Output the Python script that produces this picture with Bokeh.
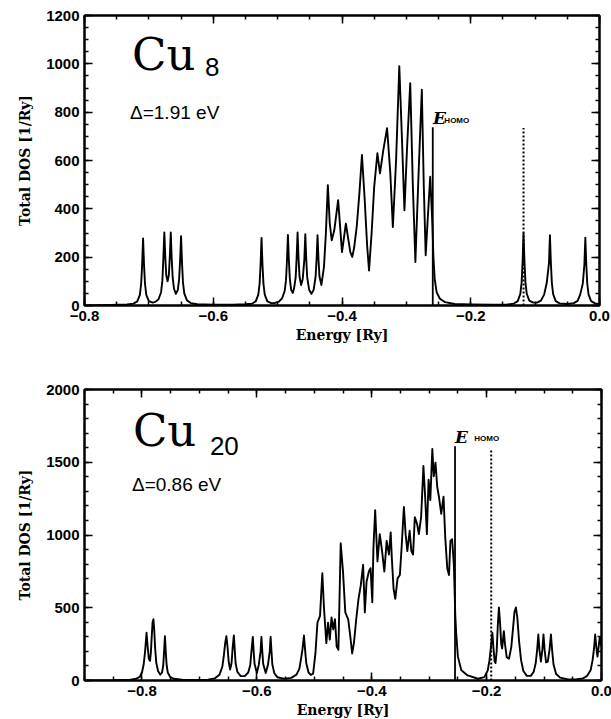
import numpy as np
from bokeh.plotting import figure
from bokeh.layouts import column
from bokeh.models import Range1d, FixedTicker, LinearAxis, Label, CustomLabelingPolicy
from bokeh.embed import file_html
from bokeh.resources import INLINE

# ---------------- Cu8 (top panel) ----------------
cu8_energy = [
    -0.800, -0.760, -0.734, -0.724, -0.718, -0.714, -0.712, -0.7105, -0.709, -0.7075, -0.706, -0.704, -0.700, -0.694,
    -0.690, -0.685, -0.681, -0.679, -0.6775, -0.676, -0.6745, -0.673, -0.671, -0.669, -0.6675, -0.666, -0.6645,
    -0.663, -0.661, -0.658, -0.655, -0.653, -0.6515, -0.650, -0.6485, -0.647, -0.645, -0.641, -0.635, -0.625,
    -0.600, -0.570, -0.550, -0.540, -0.534, -0.530, -0.528, -0.5265, -0.525, -0.5235, -0.522, -0.520, -0.516,
    -0.510, -0.505, -0.498, -0.493, -0.489, -0.487, -0.4855, -0.484, -0.4825, -0.481, -0.479, -0.4765, -0.4745,
    -0.472, -0.4705, -0.469, -0.4675, -0.466, -0.4635, -0.461, -0.4585, -0.457, -0.4555, -0.454, -0.451, -0.4475,
    -0.444, -0.441, -0.4395, -0.438, -0.4365, -0.435, -0.432, -0.428, -0.425, -0.422, -0.419, -0.416, -0.412,
    -0.406, -0.400, -0.394, -0.387, -0.384, -0.381, -0.377, -0.373, -0.369, -0.365, -0.361, -0.358, -0.354,
    -0.350, -0.345, -0.341, -0.336, -0.330, -0.325, -0.321, -0.316, -0.311, -0.307, -0.303, -0.299, -0.294,
    -0.290, -0.286, -0.281, -0.276, -0.273, -0.270, -0.267, -0.263, -0.261, -0.2595, -0.258, -0.256, -0.253,
    -0.248, -0.240, -0.225, -0.200, -0.165, -0.143, -0.133, -0.127, -0.123, -0.121, -0.1195, -0.118, -0.1165,
    -0.115, -0.113, -0.109, -0.103, -0.097, -0.091, -0.086, -0.082, -0.0785, -0.077, -0.0755, -0.074, -0.072,
    -0.068, -0.062, -0.050, -0.040, -0.034, -0.030, -0.026, -0.0235, -0.022, -0.0205, -0.019, -0.017, -0.013,
    -0.007, 0.000,
]
cu8_dos = [
    0, 2, 4, 8, 17, 44, 89, 166, 277, 166, 89, 44, 18, 12,
    15, 26, 55, 105, 195, 302, 200, 125, 100, 125, 200, 302, 190,
    115, 70, 48, 65, 110, 185, 287, 175, 95, 50, 22, 10, 5,
    3, 3, 5, 7, 17, 45, 90, 168, 280, 168, 90, 45, 17,
    10, 10, 16, 30, 60, 105, 185, 292, 185, 110, 65, 52, 70,
    115, 195, 302, 195, 120, 85, 110, 190, 295, 190, 115, 65, 48,
    65, 120, 190, 291, 190, 120, 85, 160, 300, 498, 340, 270, 311,
    436, 221, 339, 220, 201, 242, 330, 464, 623, 450, 250, 145, 300,
    491, 630, 547, 640, 734, 550, 325, 600, 990, 700, 394, 650, 920,
    500, 180, 550, 893, 500, 208, 350, 533, 420, 330, 200, 110, 55,
    28, 14, 6, 4, 3, 4, 8, 18, 48, 95, 179, 298, 179,
    95, 48, 20, 12, 12, 20, 45, 93, 175, 291, 175, 93, 47,
    18, 9, 6, 10, 19, 45, 90, 168, 281, 168, 90, 45, 18,
    9, 6,
]
cu8_homo_energy = [-0.259]
cu8_homo_top = [738]
cu8_lumo_energy = [-0.118]
cu8_lumo_top = [734]

# ---------------- Cu20 (bottom panel) ----------------
cu20_energy = [
    -0.900, -0.850, -0.820, -0.810, -0.804, -0.800, -0.797, -0.7945, -0.792, -0.790, -0.788, -0.786, -0.7845,
    -0.783, -0.7815, -0.780, -0.7785, -0.777, -0.775, -0.772, -0.768, -0.765, -0.763, -0.7615, -0.760, -0.7585,
    -0.757, -0.755, -0.751, -0.745, -0.730, -0.700, -0.685, -0.673, -0.665, -0.660, -0.6575, -0.655, -0.653,
    -0.651, -0.649, -0.6465, -0.644, -0.642, -0.640, -0.6385, -0.637, -0.634, -0.628, -0.621, -0.615, -0.6115,
    -0.6095, -0.607, -0.6055, -0.604, -0.600, -0.5965, -0.5935, -0.592, -0.5905, -0.589, -0.5845, -0.5805,
    -0.5775, -0.576, -0.5745, -0.573, -0.5695, -0.564, -0.553, -0.540, -0.531, -0.526, -0.523, -0.5205, -0.518,
    -0.516, -0.514, -0.510, -0.506, -0.502, -0.498, -0.4945, -0.490, -0.486, -0.483, -0.479, -0.476, -0.473,
    -0.470, -0.467, -0.464, -0.461, -0.458, -0.454, -0.450, -0.446, -0.441, -0.438, -0.434, -0.431, -0.427,
    -0.423, -0.419, -0.415, -0.412, -0.409, -0.405, -0.402, -0.399, -0.397, -0.394, -0.390, -0.386, -0.382,
    -0.378, -0.374, -0.370, -0.367, -0.365, -0.362, -0.359, -0.355, -0.351, -0.348, -0.344, -0.341, -0.338,
    -0.334, -0.331, -0.328, -0.325, -0.321, -0.318, -0.314, -0.310, -0.307, -0.304, -0.301, -0.298, -0.2945,
    -0.292, -0.289, -0.286, -0.283, -0.279, -0.275, -0.272, -0.2685, -0.2655, -0.263, -0.260, -0.257, -0.2545,
    -0.253, -0.250, -0.244, -0.233, -0.215, -0.204, -0.198, -0.195, -0.1925, -0.190, -0.188, -0.186, -0.1845,
    -0.1825, -0.1805, -0.1786, -0.1765, -0.1745, -0.173, -0.1715, -0.170, -0.168, -0.165, -0.161, -0.157,
    -0.154, -0.1515, -0.149, -0.1465, -0.1435, -0.140, -0.136, -0.130, -0.123, -0.118, -0.1145, -0.112, -0.110,
    -0.108, -0.1055, -0.103, -0.101, -0.099, -0.0965, -0.0935, -0.0905, -0.088, -0.086, -0.0835, -0.079,
    -0.072, -0.060, -0.045, -0.032, -0.025, -0.019, -0.0155, -0.013, -0.011, -0.009, -0.007, -0.005, -0.003,
    0.000,
]
cu20_dos = [
    0, 2, 6, 12, 25, 55, 110, 200, 328, 230, 150, 135, 190,
    300, 400, 421, 340, 220, 120, 65, 40, 55, 100, 195, 305, 195,
    105, 55, 25, 12, 5, 3, 6, 15, 40, 95, 170, 260, 305,
    230, 130, 75, 120, 230, 310, 215, 120, 60, 30, 30, 55, 105,
    195, 300, 200, 115, 52, 110, 200, 300, 200, 115, 52, 110,
    200, 300, 200, 110, 50, 22, 12, 18, 40, 80, 150, 215, 309,
    210, 120, 55, 38, 47, 186, 398, 444, 737, 491, 257, 398, 281,
    433, 351, 421, 234, 211, 943, 748, 468, 421, 328, 186, 257, 421,
    561, 655, 795, 468, 679, 749, 772, 538, 912, 1170, 819, 1006, 889,
    749, 959, 866, 1018, 842, 632, 561, 702, 725, 912, 1193, 1006, 889,
    1029, 889, 866, 1123, 1076, 1006, 1123, 1474, 1263, 1006, 1380, 1240, 1591,
    1404, 1497, 1333, 1263, 1146, 1263, 982, 772, 725, 959, 971, 795, 444,
    328, 164, 70, 35, 12, 23, 70, 140, 230, 327, 220, 130, 120,
    200, 380, 502, 390, 250, 220, 280, 339, 250, 160, 150, 230,
    360, 470, 502, 430, 270, 140, 65, 32, 32, 60, 120, 210, 316,
    210, 130, 210, 316, 210, 125, 130, 210, 316, 210, 110, 45,
    20, 9, 8, 15, 32, 70, 140, 220, 316, 230, 164, 230, 300,
    230,
]
cu20_homo_energy = [-0.2550]
cu20_homo_top = [1610]
cu20_lumo_energy = [-0.192]
cu20_lumo_top = [1594]

# ---------------- ticks ----------------
cu8_x_ticks = [-0.8, -0.6, -0.4, -0.2, 0.0]
cu8_x_tick_labels = ["\u22120.8", "\u22120.6", "\u22120.4", "\u22120.2", "0.0"]
cu8_y_ticks = [0, 200, 400, 600, 800, 1000, 1200]
cu8_y_tick_labels = ["0", "200", "400", "600", "800", "1000", "1200"]
cu20_x_ticks = [-0.8, -0.6, -0.4, -0.2, 0.0]
cu20_x_tick_labels = ["\u22120.8", "\u22120.6", "\u22120.4", "\u22120.2", "0.0"]
cu20_y_ticks = [0, 500, 1000, 1500, 2000]
cu20_y_tick_labels = ["0", "500", "1000", "1500", "2000"]

TICK_FONT = "Liberation Sans"
LABEL_FONT = "DejaVu Serif"

NO_LABELS = "for (const i of indices) { if (i < 0) { yield i } }"


def style_axis(ax, ticks, minor, labels=None):
    ax.ticker = FixedTicker(ticks=ticks, minor_ticks=minor)
    ax.axis_line_width = 2
    ax.axis_line_color = "black"
    ax.major_tick_in = 8
    ax.major_tick_out = 0
    ax.minor_tick_in = 4
    ax.minor_tick_out = 0
    ax.major_tick_line_width = 1.5
    ax.minor_tick_line_width = 1.5
    ax.major_tick_line_color = "black"
    ax.minor_tick_line_color = "black"
    if labels is not None:
        ax.major_label_overrides = dict(zip(ticks, labels))
        ax.major_label_text_font = TICK_FONT
        ax.major_label_text_font_style = "bold"
        ax.major_label_text_font_size = "15px"
        ax.major_label_text_color = "black"
        ax.major_label_standoff = 5
        ax.axis_label_text_font = LABEL_FONT
        ax.axis_label_text_font_style = "bold"
        ax.axis_label_text_font_size = "14px"
        ax.axis_label_text_color = "black"
    else:
        ax.major_label_policy = CustomLabelingPolicy(code=NO_LABELS)
        ax.major_label_standoff = 0
        ax.axis_label = None


def make_panel(energy, dos, homo_e, homo_top, lumo_e, lumo_top, xr, yr,
               xt, xtl, xminor, yt, ytl, yminor, fw, fh, bl, br, bt, bb):
    p = figure(frame_width=fw, frame_height=fh,
               x_range=Range1d(*xr), y_range=Range1d(*yr),
               output_backend="svg", toolbar_location=None,
               min_border_left=bl, min_border_right=br,
               min_border_top=bt, min_border_bottom=bb,
               x_axis_label="Energy [Ry]", y_axis_label="Total DOS [1/Ry]")
    p.xgrid.visible = False
    p.ygrid.visible = False
    p.background_fill_color = "white"
    p.border_fill_color = "white"
    p.outline_line_color = "black"
    p.outline_line_width = 2
    style_axis(p.xaxis[0], xt, xminor, xtl)
    style_axis(p.yaxis[0], yt, yminor, ytl)
    p.xaxis[0].axis_label_standoff = 3
    p.yaxis[0].axis_label_standoff = 10
    top_ax = LinearAxis()
    right_ax = LinearAxis()
    style_axis(top_ax, xt, xminor)
    style_axis(right_ax, yt, yminor)
    p.add_layout(top_ax, "above")
    p.add_layout(right_ax, "right")

    p.line(energy, dos, line_color="black", line_width=1.9, line_join="round")
    p.segment(x0=homo_e, y0=[0] * len(homo_e), x1=homo_e, y1=homo_top,
              line_color="black", line_width=1.8)
    p.segment(x0=lumo_e, y0=[0] * len(lumo_e), x1=lumo_e, y1=lumo_top,
              line_color="black", line_width=2, line_dash="2 2")
    return p


cu8_x_minor = list(np.round(np.arange(-0.8, 0.0001, 0.05), 3))
cu8_y_minor = list(range(0, 1201, 50))
cu20_x_minor = list(np.round(np.arange(-0.9, 0.0001, 0.05), 3))
cu20_y_minor = list(range(0, 2001, 100))

p1 = make_panel(cu8_energy, cu8_dos, cu8_homo_energy, cu8_homo_top, cu8_lumo_energy, cu8_lumo_top,
                (-0.8, 0.0), (0, 1200), cu8_x_ticks, cu8_x_tick_labels, cu8_x_minor,
                cu8_y_ticks, cu8_y_tick_labels, cu8_y_minor,
                515, 290, 84, 12, 15, 44)
p2 = make_panel(cu20_energy, cu20_dos, cu20_homo_energy, cu20_homo_top, cu20_lumo_energy, cu20_lumo_top,
                (-0.9, 0.0), (0, 2000), cu20_x_ticks, cu20_x_tick_labels, cu20_x_minor,
                cu20_y_ticks, cu20_y_tick_labels, cu20_y_minor,
                517, 291, 80, 14, 40, 38)

# ---------------- annotations ----------------
def add_text(p, x, y, text, font, size, style="normal"):
    p.add_layout(Label(x=x, y=y, text=text, text_font=font, text_font_size=size,
                       text_font_style=style, text_color="black", text_baseline="alphabetic"))


add_text(p1, -0.7262, 1040, "Cu", "DejaVu Serif", "45px")
add_text(p1, -0.6128, 985, "8", "Liberation Sans", "26px")
add_text(p1, -0.7293, 800, "\u0394=1.91 eV", "Liberation Sans", "19px")
add_text(p1, -0.2586, 775, "E", "DejaVu Serif", "17px", "bold italic")
add_text(p1, -0.2410, 766, "HOMO", "Liberation Sans", "8px", "bold")

add_text(p2, -0.8157, 1715, "Cu", "DejaVu Serif", "45px")
add_text(p2, -0.6817, 1610, "20", "Liberation Sans", "26px")
add_text(p2, -0.8174, 1345, "\u0394=0.86 eV", "Liberation Sans", "19px")
add_text(p2, -0.2550, 1675, "E", "DejaVu Serif", "17px", "bold italic")
add_text(p2, -0.2215, 1664, "HOMO", "Liberation Sans", "8px", "bold")

layout = column(p1, p2, spacing=0)
open("out.html", "w").write(file_html(layout, INLINE))
